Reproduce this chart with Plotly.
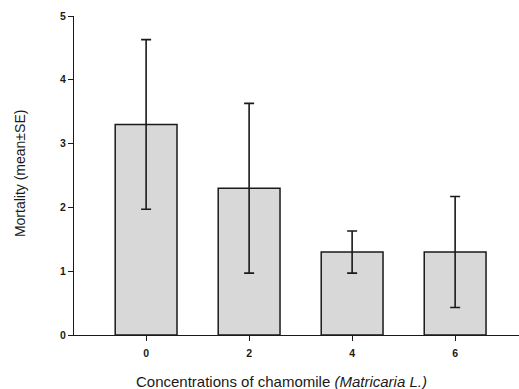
import plotly.graph_objects as go

# Chamomile concentration groups and mortality (mean ± SE)
concentrations = [0, 2, 4, 6]
mortality_mean = [3.3, 2.3, 1.3, 1.3]
mortality_se = [1.33, 1.33, 0.33, 0.87]
y_ticks = [0, 1, 2, 3, 4, 5]

font_family = "Liberation Sans, Arial, sans-serif"
ink = "#1a1a1a"

fig = go.Figure(
    go.Bar(
        x=concentrations,
        y=mortality_mean,
        width=1.2,
        marker=dict(color="#d8d8d8", line=dict(color=ink, width=1.5)),
        error_y=dict(
            type="data",
            array=mortality_se,
            visible=True,
            color=ink,
            thickness=1.6,
            width=5,
        ),
    )
)

fig.update_layout(
    width=519,
    height=389,
    margin=dict(l=74, r=0, t=16, b=54),
    plot_bgcolor="white",
    paper_bgcolor="white",
    showlegend=False,
    font=dict(family=font_family, color=ink, size=10),
)

axis_style = dict(
    showline=True,
    linecolor=ink,
    linewidth=1.3,
    ticks="outside",
    ticklen=5,
    tickwidth=1.3,
    tickcolor=ink,
    showgrid=False,
    zeroline=False,
    tickfont=dict(size=10.5, weight="bold"),
)

fig.update_xaxes(
    range=[-1.4, 7.24],
    tickvals=concentrations,
    ticktext=[str(c) for c in concentrations],
    ticklabelstandoff=3,
    **axis_style,
)

fig.update_yaxes(
    range=[0, 5],
    tickvals=y_ticks,
    **axis_style,
)

# Axis titles placed as annotations
fig.add_annotation(
    text="Concentrations of chamomile <i>(Matricaria L.)</i>",
    xref="paper", yref="paper",
    x=0.467, y=-0.113,
    xanchor="center", yanchor="top",
    showarrow=False,
    font=dict(size=15),
)
fig.add_annotation(
    text="Mortality (mean±SE)",
    xref="paper", yref="paper",
    x=-0.121, y=0.508,
    xanchor="center", yanchor="middle",
    textangle=-90,
    showarrow=False,
    font=dict(size=14),
)

fig.write_html("out.html")
